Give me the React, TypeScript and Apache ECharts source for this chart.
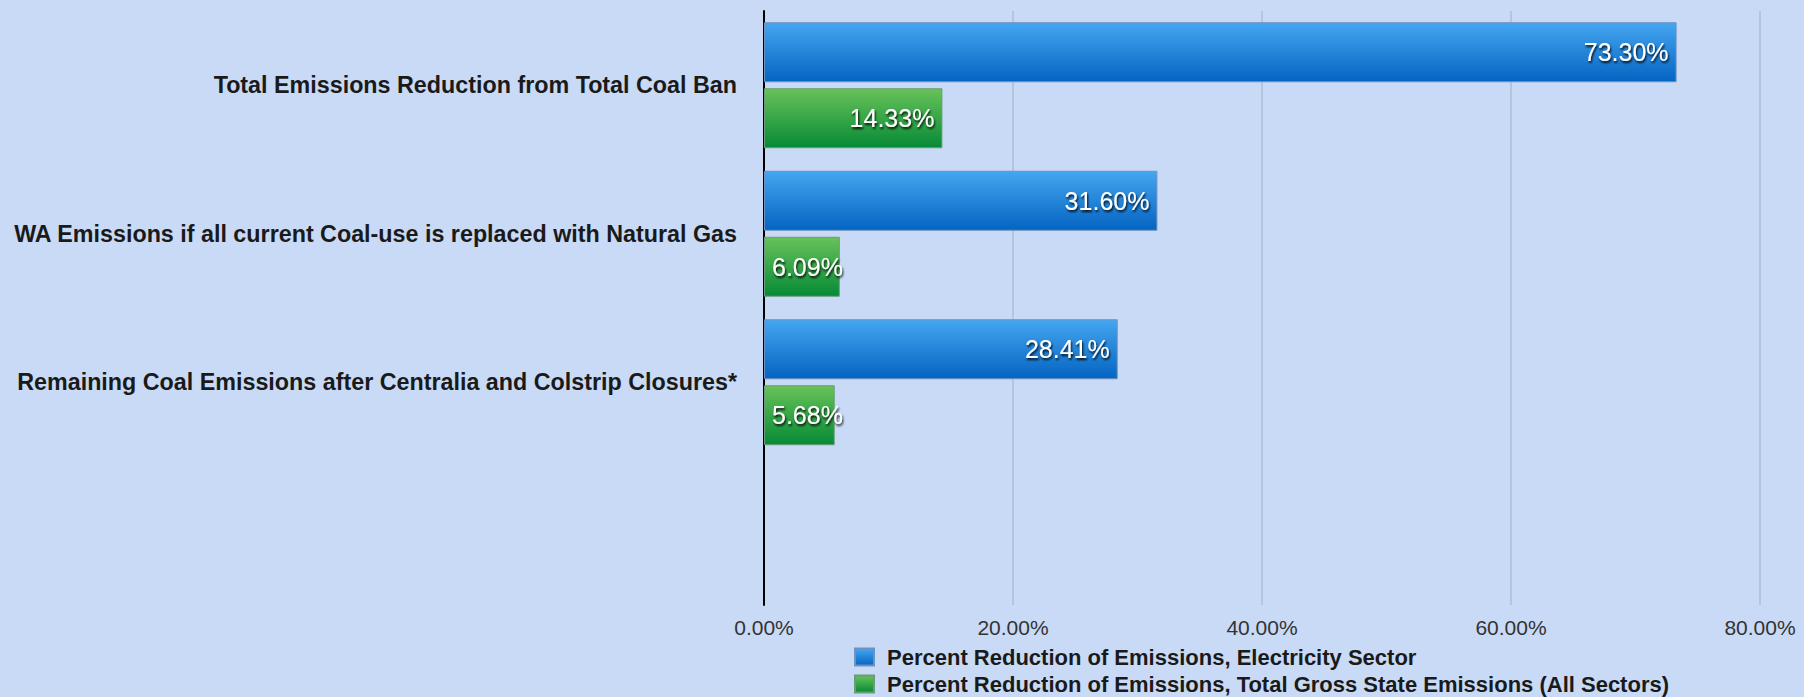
import React, { useEffect, useRef } from "react";
import * as echarts from "echarts";

const categories = [
  "Total Emissions Reduction from Total Coal Ban",
  "WA Emissions if all current Coal-use is replaced with Natural Gas",
  "Remaining Coal Emissions after Centralia and Colstrip Closures*",
  "",
];
const electricityValues: (number | null)[] = [73.3, 31.6, 28.41, null];
const totalStateValues: (number | null)[] = [14.33, 6.09, 5.68, null];
const seriesNames = [
  "Percent Reduction of Emissions, Electricity Sector",
  "Percent Reduction of Emissions, Total Gross State Emissions (All Sectors)",
];
const xTicks = { min: 0, max: 80, interval: 20 };

const FONT = "'Liberation Sans', Arial, Helvetica, sans-serif";

function grad(top: string, bottom: string) {
  return new echarts.graphic.LinearGradient(0, 0, 0, 1, [
    { offset: 0, color: top },
    { offset: 1, color: bottom },
  ]);
}

function buildData(vals: (number | null)[]) {
  return vals.map((v) =>
    v == null
      ? "-"
      : {
          value: v,
          label: { position: v < 10 ? "insideLeft" : "insideRight" },
        }
  );
}

export default function App() {
  const ref = useRef<HTMLDivElement>(null);
  useEffect(() => {
    if (!ref.current) return;
    document.body.style.margin = "0";
    const chart = echarts.init(ref.current, undefined, { renderer: "svg" });
    const label = {
      show: true,
      color: "#ffffff",
      fontSize: 25,
      fontFamily: FONT,
      textShadowColor: "rgba(0,0,0,0.9)",
      textShadowBlur: 2,
      textShadowOffsetX: 1,
      textShadowOffsetY: 2,
      distance: 8,
      formatter: (p: any) => Number(p.value).toFixed(2) + "%",
    };
    chart.setOption({
      animation: false,
      backgroundColor: "#c9daf6",
      grid: { left: 764, right: 44, top: 11, bottom: 92 },
      xAxis: {
        type: "value",
        min: xTicks.min,
        max: xTicks.max,
        interval: xTicks.interval,
        axisLine: { show: false },
        axisTick: { show: false },
        splitLine: { lineStyle: { color: "#b6c4de", width: 2 } },
        axisLabel: {
          color: "#333333",
          fontSize: 21,
          fontFamily: FONT,
          margin: 12,
          formatter: (v: number) => v.toFixed(2) + "%",
        },
      },
      yAxis: {
        type: "category",
        inverse: true,
        data: categories,
        axisLine: { show: true, lineStyle: { color: "#000000", width: 2 } },
        axisTick: { show: false },
        axisLabel: {
          color: "#1a1a1a",
          fontSize: 23.3,
          fontWeight: "bold",
          fontFamily: FONT,
          margin: 27,
        },
      },
      legend: {
        orient: "vertical",
        left: 854,
        top: 646,
        padding: 0,
        height: 60,
        itemWidth: 19,
        itemHeight: 17,
        itemGap: 5,
        icon: "rect",
        textStyle: {
          color: "#1a1a1a",
          fontSize: 22,
          fontWeight: "bold",
          fontFamily: FONT,
          lineHeight: 20,
          padding: [0, 0, 0, 8],
        },
        data: seriesNames,
      },
      series: [
        {
          name: seriesNames[0],
          type: "bar",
          data: buildData(electricityValues),
          barWidth: 60,
          barGap: "10%",
          itemStyle: {
            color: grad("#45a6f0", "#0464c2"),
            borderColor: "#7190bd",
            borderWidth: 1,
          },
          label,
        },
        {
          name: seriesNames[1],
          type: "bar",
          data: buildData(totalStateValues),
          barWidth: 60,
          barGap: "10%",
          itemStyle: {
            color: grad("#68c259", "#068a36"),
            borderColor: "#6d9a78",
            borderWidth: 1,
          },
          label,
        },
      ],
    });
    return () => chart.dispose();
  }, []);
  return (
    <div
      ref={ref}
      style={{ position: "absolute", left: 0, top: 0, width: 1804, height: 697 }}
    />
  );
}
